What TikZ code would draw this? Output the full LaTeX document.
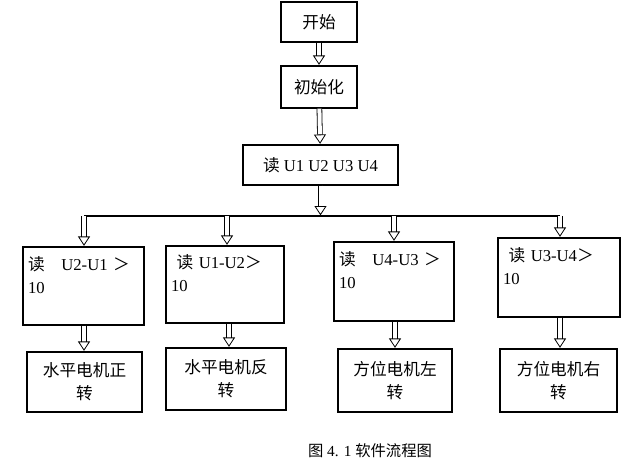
\documentclass[tikz,border=0pt]{standalone}
\usepackage{fontspec}
\setmainfont{Liberation Serif}
\newfontfamily\cjk{Noto Sans CJK SC}
\usetikzlibrary{arrows.meta}
\begin{document}
\begin{tikzpicture}[x=0.75pt,y=-0.75pt,
  bx/.style={draw,thick,rectangle,inner sep=0pt,font=\fontsize{12.5}{17}\selectfont},
  harrow/.style={semithick,double,double distance=3pt,shorten >=0.5pt,-{Triangle[open,width=9pt,length=7pt]}}]
\useasboundingbox (0,0) rectangle (640,461);
\node[bx,minimum width=76*0.75pt,minimum height=40*0.75pt] (start) at (319,22) {\cjk 开始};
\node[bx,minimum width=76*0.75pt,minimum height=42*0.75pt] (init) at (319,87) {\cjk 初始化};
\node[bx,minimum width=155*0.75pt,minimum height=40*0.75pt] (read) at (320.5,165) {{\cjk 读} U1 U2 U3 U4};
\coordinate (bl) at (84,216);
\coordinate (br) at (560,216);
\coordinate (bm) at (320.5,216);
\draw[thick] (bl) -- (br);
\draw[harrow] (start) -- (init);
\draw[harrow] (init) -- (read);
\draw[harrow] (read) -- (bm);
% row 1
\node[bx,minimum width=121*0.75pt,minimum height=78*0.75pt,text width=111*0.75pt,align=left] (c1) at (83.5,286) {{\cjk 读}\quad U2-U1 {\cjk ＞}\\10\\\mbox{}};
\node[bx,minimum width=118*0.75pt,minimum height=77*0.75pt,text width=108*0.75pt,align=left] (c2) at (225,284.5) {\ {\cjk 读} U1-U2{\cjk ＞}\\10\\\mbox{}};
\node[bx,minimum width=120*0.75pt,minimum height=79*0.75pt,text width=110*0.75pt,align=left] (c3) at (394,281.5) {{\cjk 读}\quad U4-U3 {\cjk ＞}\\10\\\mbox{}};
\node[bx,minimum width=122*0.75pt,minimum height=79*0.75pt,text width=112*0.75pt,align=left] (c4) at (559,277.5) {\ {\cjk 读} U3-U4{\cjk ＞}\\10\\\mbox{}};
\foreach \x/\n in {84/c1,227/c2,394/c3,560/c4}{
  \coordinate (t\n) at (\x,216);
  \draw[harrow] (t\n) -- (t\n |- \n.north);
}
% row 2
\node[bx,minimum width=115*0.75pt,minimum height=60*0.75pt,text width=105*0.75pt,align=center] (d1) at (84.5,382) {\cjk 水平电机正\\转};
\node[bx,minimum width=120*0.75pt,minimum height=62*0.75pt,text width=110*0.75pt,align=center] (d2) at (226,379) {\cjk 水平电机反\\转};
\node[bx,minimum width=114*0.75pt,minimum height=63*0.75pt,text width=104*0.75pt,align=center] (d3) at (395,380.5) {\cjk 方位电机左\\转};
\node[bx,minimum width=117*0.75pt,minimum height=63*0.75pt,text width=107*0.75pt,align=center] (d4) at (558.5,380.5) {\cjk 方位电机右\\转};
\draw[harrow] (c1.south -| 84,0) -- (d1.north -| 84,0);
\draw[harrow] (c2.south -| 229,0) -- (d2.north -| 229,0);
\draw[harrow] (c3.south -| 395,0) -- (d3.north -| 395,0);
\draw[harrow] (c4.south -| 560,0) -- (d4.north -| 560,0);
\node[font=\fontsize{11.5}{13}\selectfont] (cap) at (370,451) {{\cjk 图} 4. 1 {\cjk 软件流程图}};
\end{tikzpicture}
\end{document}
